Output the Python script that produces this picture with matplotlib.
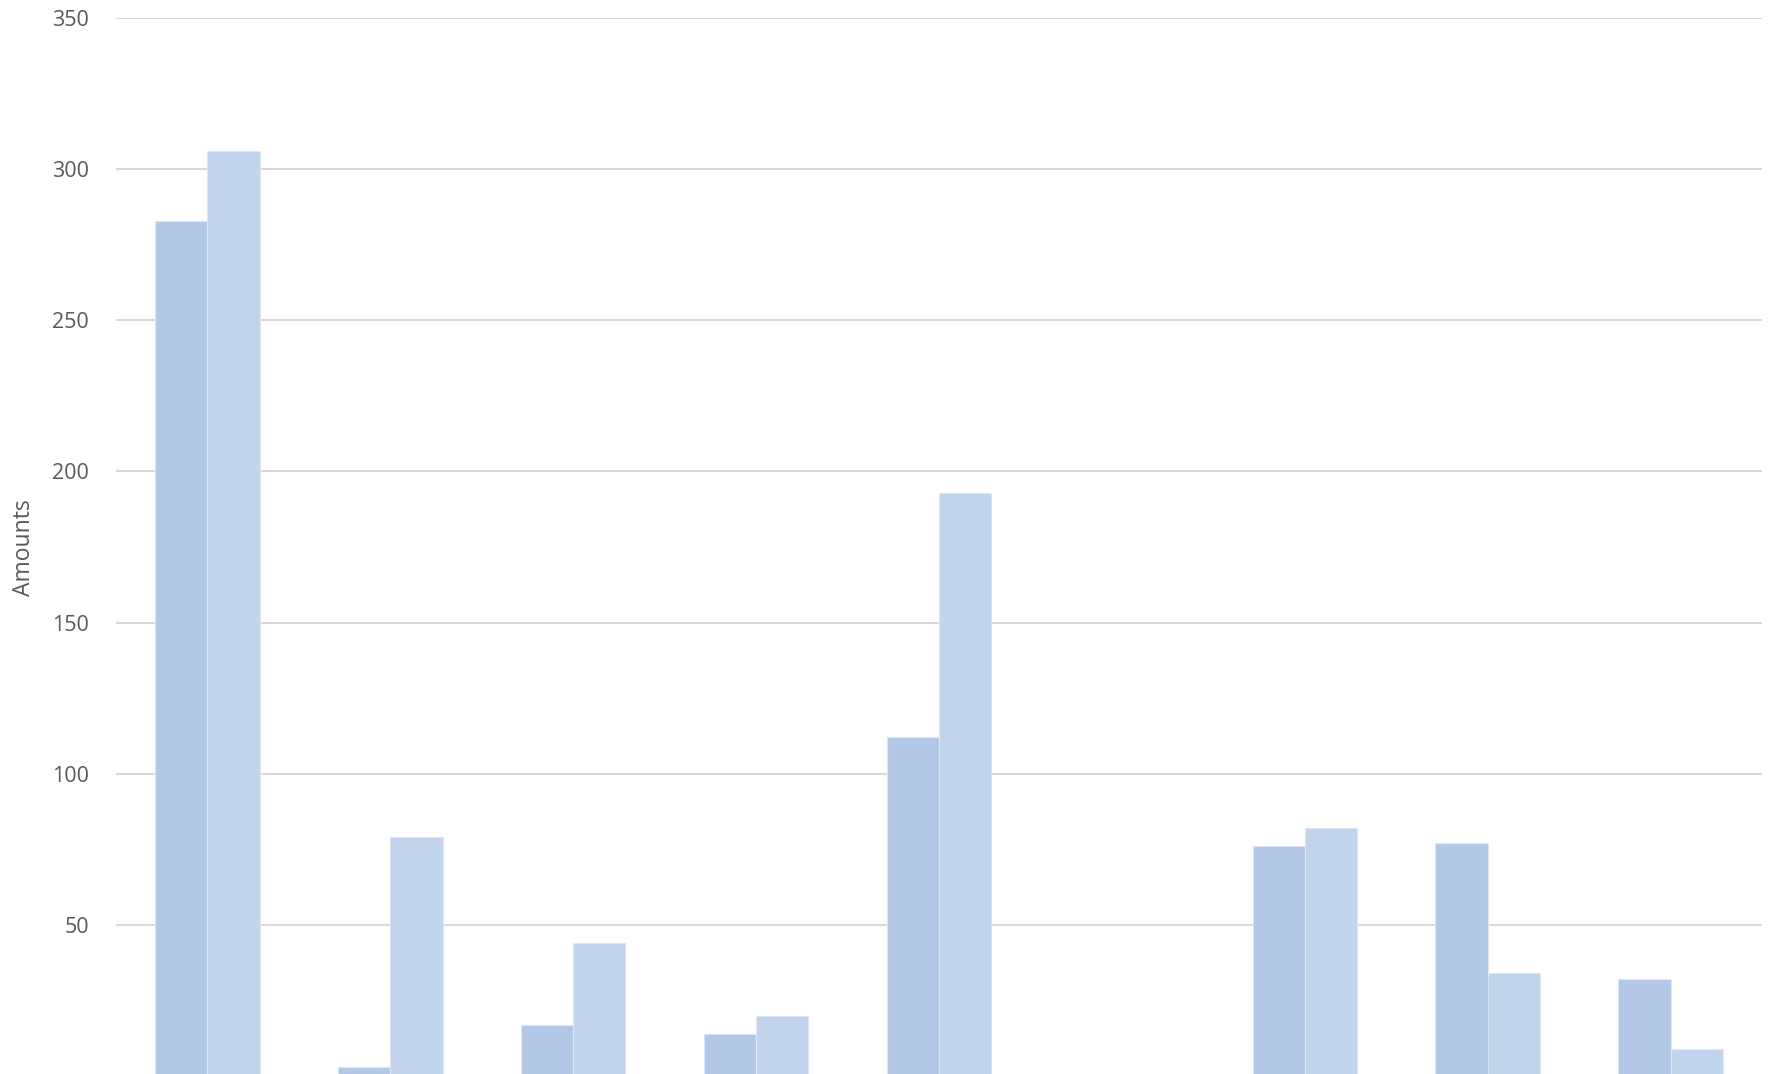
import numpy as np
from matplotlib import pyplot as plt

# values; the category labels sit below the visible area
categories = ["A", "B", "C", "D", "E", "F", "G", "H", "I"]
series_1 = [283, 3, 17, 14, 112, 0, 76, 77, 32]
series_2 = [306, 79, 44, 20, 193, 0, 82, 34, 9]
y_ticks = [50, 100, 150, 200, 250, 300, 350]

plt.rcParams['font.family'] = ['Open Sans', 'DejaVu Sans']

fig = plt.figure(figsize=(17.77, 10.74), dpi=100)
ax = fig.add_axes([116 / 1777, -2 / 1074, (1762 - 116) / 1777, 1058 / 1074])

x = np.arange(len(categories))
w = 1 / 3.5
ax.bar(x - w / 2, series_1, width=w, color="#B3C7E6", edgecolor="#DCE6F4", linewidth=0.8, zorder=2)
ax.bar(x + w / 2, series_2, width=w, color="#C2D4EB", edgecolor="#DCE6F4", linewidth=0.8, zorder=2)

ax.set_xlim(-0.5, len(categories) - 0.5)
ax.set_ylim(0, 350)
ax.set_yticks(y_ticks)
ax.set_xticks(x)
ax.set_xticklabels([])
ax.tick_params(axis="both", length=0, labelsize=15.5, labelcolor="#595959", pad=19.5)
ax.yaxis.grid(True, color="#D9D9D9", linewidth=1.5, zorder=0)
ax.set_axisbelow(True)
for s in ax.spines.values():
    s.set_visible(False)

# axis title placed in figure pixels to sit where the reference has it
fig.text(24 / 1777, 1 - 548 / 1074, "Amounts", rotation=90, ha="center", va="center",
         fontsize=16.5, color="#595959")

fig.savefig("out.png", dpi=100)
